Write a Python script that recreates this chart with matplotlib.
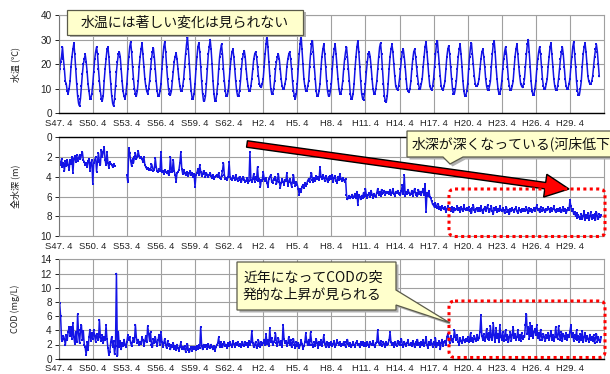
"""Monthly water temperature, total depth and COD since S47 (three stacked panels)."""

import numpy as np
import matplotlib.pyplot as plt
from matplotlib.patches import FancyArrow, FancyBboxPatch, Polygon
from matplotlib.transforms import Affine2D

plt.rcParams['font.family'] = ['Noto Sans CJK JP', 'DejaVu Sans']

# fiscal years (April start); one row of monthly values per year, Apr..Mar
fiscal_years = list(range(1972, 2020))

temp_rows = [
    [12, 18, 21, 23, 27, 22, 18, 13, 12, 9, 8, 10],
    [13, 19, 23, 26, 28.5, 24, 18, 12, 7, 4, 3, 6],
    [11, 16, 20, 22, 24, 21, 17, 12, 9, 6, 6, 8],
    [12, 17, 22, 25, 27, 24, 18, 13, 9, 6, 5, 7],
    [13, 18, 22, 26, 27, 23, 17, 12, 7, 4, 3, 6],
    [11, 17, 21, 24, 25, 23, 18, 13, 9, 7, 6, 8],
    [12, 18, 23, 27, 29, 25, 19, 14, 10, 8, 7, 9],
    [13, 19, 23, 26, 28.5, 24, 19, 14, 11, 9, 8, 10],
    [13, 18, 22, 25, 26.5, 23, 18, 13, 9, 7, 7, 9],
    [12, 18, 23, 27, 29, 25, 19, 14, 10, 8, 7.5, 9],
    [13, 17, 21, 23, 24.5, 22, 18, 14, 11, 9, 9, 11],
    [14, 19, 24, 28, 31, 26, 20, 14, 9, 6, 6, 8],
    [12, 18, 23, 27, 28.5, 25, 19, 13, 8, 5, 5, 7],
    [12, 18, 24, 27, 30, 26, 20, 13, 8, 5, 5, 8],
    [12, 18, 23, 26, 28, 24, 18, 13, 9, 7, 7, 9],
    [13, 18, 22, 25, 26, 23, 18, 13, 9, 7, 7, 9],
    [13, 18, 22, 24, 25.5, 23, 18, 14, 11, 9, 9, 11],
    [14, 18, 22, 24, 25, 23, 19, 15, 12, 11, 10.5, 12],
    [14, 19, 24, 28, 32, 27, 21, 15, 10, 8, 8, 10],
    [13, 18, 21, 23, 24, 22, 18, 14, 11, 10, 10, 12],
    [14, 19, 22, 24, 25, 22, 18, 13, 9, 7, 6, 8],
    [12, 18, 24, 28, 32, 26, 20, 14, 11, 9, 9, 11],
    [13, 19, 24, 28, 29.5, 25, 19, 14, 9, 7, 7, 9],
    [12, 18, 23, 26, 28, 24, 19, 13, 9, 7, 7, 9],
    [12, 18, 23, 26, 28, 24, 19, 14, 10, 8, 8, 10],
    [13, 18, 22, 25, 27, 23, 18, 13, 8, 6, 6, 8],
    [12, 18, 23, 27, 29.5, 25, 19, 13, 8, 6, 5.5, 8],
    [12, 17, 21, 24, 25, 23, 19, 14, 10, 8, 8, 10],
    [13, 18, 23, 27, 28.5, 24, 18, 12, 7, 5, 4.5, 7],
    [12, 18, 23, 26, 28, 25, 20, 15, 11, 10, 9.5, 11],
    [14, 18, 22, 25, 26, 23, 19, 14, 10, 9, 8.5, 10],
    [13, 18, 22, 25, 26, 23, 19, 15, 12, 10, 10, 12],
    [14, 19, 23, 27, 29, 25, 20, 15, 11, 10, 9.5, 11],
    [14, 19, 24, 28, 29.5, 25, 20, 15, 11, 10, 9.5, 11],
    [13, 18, 23, 26, 27.5, 24, 19, 14, 10, 8, 8, 10],
    [13, 18, 23, 26, 28, 24, 19, 13, 9, 7, 7, 9],
    [12, 18, 23, 27, 28.5, 24, 20, 15, 12, 11, 11, 12],
    [14, 18, 22, 25, 26, 23, 19, 14, 11, 9.5, 9.5, 11],
    [13, 19, 24, 28, 29.5, 25, 19, 14, 10, 8, 8, 10],
    [13, 18, 22, 25, 27, 24, 19, 14, 11, 9.5, 9.5, 11],
    [13, 18, 23, 26, 28, 24, 19, 15, 12, 11, 10.5, 12],
    [14, 19, 24, 28, 30, 25, 19, 13, 9, 7.5, 7.5, 10],
    [13, 18, 22, 25, 27, 24, 19, 14, 11, 10, 10, 12],
    [14, 19, 23, 27, 28.5, 24, 19, 14, 11, 9.5, 9.5, 11],
    [14, 18, 22, 25, 27, 24, 19, 14, 11, 10, 10, 12],
    [14, 19, 23, 27, 29, 24, 19, 13, 9, 7.5, 7.5, 10],
    [13, 19, 24, 27, 28.5, 25, 20, 15, 13, 12, 12, 13],
    [15, 19, 23, 26, 28, 25, 20, 15],
]

N = None
depth_rows = [
    [2.0, 2.5, 2.8, 2.2, 3.0, 2.6, 3.4, 2.4, 2.9, 2.3, 2.8, 3.3],
    [2.3, 2.7, 2.0, 3.6, 2.2, 1.9, 2.5, 1.8, 2.4, 2.1, 1.8, 2.2],
    [1.8, 1.5, 2.3, 2.5, 2.8, 2.6, 3.0, 2.4, 2.2, 3.4, 2.6, 2.3],
    [4.7, 2.6, 2.3, 2.0, 3.5, 2.4, 1.6, 2.5, 2.8, 1.3, 2.0, 1.5],
    [1.0, 2.3, 2.8, 1.5, 2.6, 3.1, 2.5, 2.7, 2.8, 3.0, 2.7, 2.9],
    [N, N, N, N, N, N, N, N, N, N, N, N],
    [3.8, 4.5, 1.1, 1.6, 2.4, 2.9, 2.2, 2.6, 2.0, 1.6, 2.2, 2.0],
    [1.4, 1.9, 2.1, 2.0, 2.2, 2.5, 2.0, 2.8, 3.0, 3.2, 3.1, 3.3],
    [3.2, 3.3, 2.7, 3.0, 3.4, 3.3, 2.1, 3.0, 3.4, 3.5, 3.2, 3.4],
    [1.5, 3.5, 3.4, 3.7, 3.3, 3.5, 3.6, 3.4, 3.8, 3.6, 2.0, 3.5],
    [3.5, 2.3, 3.4, 3.8, 4.5, 3.6, 3.5, 3.3, 2.6, 1.5, 3.2, 3.7],
    [3.3, 3.6, 3.8, 3.5, 3.7, 3.9, 3.6, 3.4, 3.8, 3.6, 4.0, 3.7],
    [5.0, 3.8, 3.6, 3.2, 3.8, 2.8, 3.5, 3.9, 3.7, 3.4, 3.6, 4.0],
    [3.6, 3.8, 4.0, 3.8, 3.6, 3.9, 4.1, 3.8, 4.2, 4.0, 3.9, 3.8],
    [4.0, 3.6, 4.1, 4.2, 3.9, 3.4, 2.6, 3.8, 4.2, 4.1, 4.3, 4.0],
    [2.5, 4.0, 4.2, 4.3, 3.9, 4.1, 4.3, 3.8, 4.2, 4.4, 4.1, 4.0],
    [4.3, 4.5, 4.2, 4.0, 4.3, 4.5, 4.4, 4.1, 4.6, 4.4, 1.5, 4.3],
    [4.5, 4.2, 3.7, 4.5, 4.0, 4.3, 3.0, 4.4, 4.2, 5.0, 4.3, 4.4],
    [3.5, 4.2, 4.4, 4.1, 4.6, 5.0, 4.2, 4.0, 3.8, 4.5, 4.6, 4.2],
    [4.3, 4.0, 4.7, 4.4, 3.7, 4.5, 5.1, 4.6, 4.2, 4.5, 4.8, 4.3],
    [4.4, 3.6, 4.9, 4.5, 4.2, 4.6, 5.0, 4.4, 3.8, 4.6, 4.9, 4.5],
    [4.8, 5.2, 5.8, 5.2, 5.5, 5.0, 4.8, 5.1, 4.6, 4.9, 4.7, 4.4],
    [4.2, 4.5, 4.0, 3.6, 4.3, 4.5, 4.1, 4.4, 3.9, 4.2, 4.0, 4.3],
    [3.0, 4.0, 4.2, 3.8, 4.1, 4.4, 3.9, 4.2, 4.5, 4.0, 4.3, 3.9],
    [4.2, 3.8, 4.5, 4.1, 3.9, 4.4, 4.6, 4.0, 4.3, 3.7, 4.2, 4.4],
    [4.1, 4.3, 4.5, 4.2, 5.8, 6.3, 6.1, 5.9, 6.2, 6.0, 5.8, 6.1],
    [6.0, 5.7, 6.2, 5.5, 6.9, 5.8, 6.0, 6.3, 5.9, 6.1, 5.6, 6.0],
    [5.2, 5.9, 6.1, 5.8, 5.6, 6.0, 5.4, 5.8, 6.1, 5.7, 5.9, 6.0],
    [5.6, 5.2, 5.8, 5.5, 5.9, 5.3, 5.7, 5.6, 5.4, 5.8, 5.5, 5.6],
    [5.5, 5.7, 5.3, 5.8, 5.6, 5.2, 5.7, 5.9, 5.5, 5.6, 5.4, 5.7],
    [5.6, 5.8, 5.4, 4.8, 5.7, 3.8, 5.9, 5.5, 5.7, 5.3, 5.6, 5.8],
    [5.7, 5.4, 5.9, 5.5, 5.2, 5.8, 5.6, 5.9, 5.3, 5.7, 5.5, 5.8],
    [5.5, 5.2, 5.8, 4.7, 7.6, 5.6, 5.9, 5.4, 6.0, 6.2, 6.5, 6.8],
    [6.9, 7.1, 6.7, 7.0, 7.2, 6.8, 7.3, 7.1, 7.4, 7.0, 7.2, 7.3],
    [7.1, 7.6, 7.3, 7.0, 7.4, 7.2, 7.5, 7.1, 7.3, 7.6, 7.2, 7.4],
    [7.3, 7.0, 7.4, 7.2, 7.6, 7.1, 7.3, 7.5, 6.9, 7.3, 7.4, 7.2],
    [7.4, 7.1, 7.5, 7.3, 7.7, 7.2, 6.9, 7.4, 7.6, 7.3, 7.2, 7.5],
    [7.2, 7.5, 7.0, 7.4, 7.7, 7.3, 7.1, 7.5, 7.2, 6.9, 7.4, 7.6],
    [7.3, 7.0, 7.5, 7.8, 7.2, 7.4, 7.1, 7.6, 7.3, 7.5, 7.0, 7.4],
    [7.5, 7.2, 7.4, 7.7, 7.3, 7.1, 7.6, 7.4, 7.8, 7.3, 7.5, 7.2],
    [7.4, 7.6, 7.3, 7.1, 7.5, 7.7, 7.2, 7.4, 7.6, 7.3, 7.5, 7.4],
    [7.3, 7.5, 7.1, 7.4, 7.7, 7.2, 7.5, 7.3, 7.6, 7.4, 7.2, 7.5],
    [7.2, 6.9, 7.4, 7.3, 7.6, 7.1, 7.4, 7.5, 7.2, 7.4, 7.6, 7.3],
    [7.4, 7.1, 7.3, 7.6, 7.2, 7.5, 7.3, 7.0, 7.4, 7.6, 7.3, 7.5],
    [7.3, 7.5, 7.2, 7.6, 7.4, 7.1, 7.5, 7.3, 7.7, 7.4, 7.2, 7.4],
    [6.4, 7.0, 7.5, 7.3, 7.8, 7.6, 8.0, 7.7, 8.2, 7.9, 8.1, 8.3],
    [7.8, 8.3, 8.0, 7.5, 8.4, 7.9, 8.2, 7.7, 8.4, 8.0, 7.6, 8.3],
    [7.9, 8.2, 7.8, 8.4, 7.6, 8.0, 8.3, 7.8, 8.1, 7.9],
]

cod_rows = [
    [7.5, 7.8, 6.0, 2.7, 2.5, 3.2, 2.8, 1.9, 3.3, 2.6, 3.8, 4.4],
    [3.2, 4.5, 2.8, 5.0, 3.0, 2.1, 3.8, 2.4, 6.3, 3.5, 2.2, 4.0],
    [4.7, 2.6, 3.9, 2.0, 1.6, 0.5, 2.3, 1.2, 3.0, 4.1, 2.5, 3.6],
    [2.8, 4.0, 3.2, 2.4, 3.5, 2.9, 2.6, 5.5, 3.0, 2.5, 3.3, 2.2],
    [3.0, 2.6, 4.7, 2.8, 1.5, 0.5, 1.0, 2.4, 3.1, 1.7, 2.5, 0.6],
    [1.8, 12.0, 0.4, 3.8, 1.6, 2.5, 1.3, 2.2, 1.8, 2.7, 2.0, 1.6],
    [2.4, 3.3, 2.6, 3.0, 2.2, 1.8, 2.5, 2.9, 2.4, 4.8, 3.0, 2.2],
    [2.7, 1.9, 2.4, 2.1, 3.0, 2.6, 1.8, 2.5, 3.2, 2.3, 4.6, 3.5],
    [2.5, 3.7, 2.0, 1.6, 2.8, 2.2, 3.1, 2.4, 1.8, 2.6, 3.4, 2.0],
    [3.7, 2.4, 1.7, 2.2, 2.8, 1.9, 1.5, 2.5, 1.8, 2.1, 1.3, 1.9],
    [1.6, 2.2, 1.4, 1.8, 1.2, 2.0, 1.5, 1.1, 1.7, 2.3, 1.4, 1.6],
    [1.3, 1.8, 1.0, 1.5, 2.1, 1.2, 0.9, 1.4, 1.7, 1.1, 1.6, 1.4],
    [1.6, 1.2, 1.8, 1.4, 1.9, 1.5, 4.5, 1.8, 1.3, 2.0, 1.6, 1.7],
    [1.9, 1.4, 2.1, 1.7, 1.5, 2.0, 1.6, 1.3, 1.8, 1.1, 1.6, 1.9],
    [2.2, 3.0, 1.7, 2.4, 1.9, 1.6, 2.1, 2.3, 1.8, 2.0, 1.5, 2.2],
    [1.8, 2.3, 2.0, 1.6, 2.5, 2.1, 1.7, 2.2, 1.9, 2.4, 1.8, 2.0],
    [2.1, 1.7, 2.4, 2.0, 1.8, 2.3, 1.9, 2.2, 1.6, 2.5, 2.0, 2.3],
    [3.9, 2.2, 1.6, 2.0, 2.4, 1.5, 1.8, 2.6, 2.1, 1.7, 2.3, 2.0],
    [2.2, 2.7, 1.9, 3.5, 2.1, 2.6, 1.8, 4.3, 2.3, 2.9, 2.0, 2.4],
    [2.6, 3.6, 2.2, 1.8, 2.9, 2.3, 2.0, 2.5, 1.7, 4.8, 2.8, 2.2],
    [2.5, 1.8, 2.2, 3.1, 1.9, 2.7, 1.6, 2.3, 2.8, 2.0, 1.5, 2.4],
    [1.8, 2.2, 1.5, 1.9, 2.6, 2.1, 1.4, 1.8, 2.3, 3.6, 2.4, 1.9],
    [2.7, 1.9, 3.7, 2.5, 2.0, 1.6, 2.3, 1.8, 2.8, 2.2, 1.5, 2.4],
    [2.0, 2.6, 1.8, 2.3, 3.3, 2.1, 1.7, 2.4, 2.0, 1.6, 2.2, 1.9],
    [2.3, 1.8, 2.1, 2.5, 1.7, 2.0, 2.6, 2.2, 1.9, 2.4, 1.8, 2.1],
    [1.9, 2.4, 2.0, 1.7, 2.3, 2.7, 2.1, 1.8, 2.2, 1.6, 2.0, 2.3],
    [2.0, 1.7, 2.2, 2.5, 1.9, 2.1, 1.6, 2.3, 2.0, 2.4, 1.8, 2.1],
    [2.2, 1.8, 2.4, 2.0, 1.7, 2.3, 2.1, 1.9, 2.5, 2.0, 1.6, 2.2],
    [2.4, 4.0, 2.2, 1.9, 2.5, 2.0, 1.8, 2.3, 2.1, 1.7, 2.4, 2.0],
    [2.1, 2.6, 3.7, 2.3, 1.9, 2.2, 1.7, 2.4, 2.0, 1.8, 2.5, 2.1],
    [1.9, 2.3, 2.8, 2.0, 1.7, 2.4, 2.1, 1.8, 2.2, 2.6, 1.9, 2.0],
    [2.2, 1.8, 2.5, 2.1, 1.6, 2.3, 2.0, 2.7, 1.9, 2.2, 1.7, 2.4],
    [2.0, 2.6, 1.8, 2.2, 3.1, 2.0, 1.5, 2.3, 1.9, 2.6, 2.1, 1.7],
    [2.4, 2.0, 2.9, 1.6, 2.2, 1.9, 2.5, 1.3, 2.2, 2.7, 1.8, 2.3],
    [2.5, 2.0, 3.0, 3.5, 2.7, 2.2, 3.2, 2.6, 2.3, 2.8, 4.0, 3.1],
    [2.6, 3.3, 2.4, 2.0, 2.9, 2.5, 2.2, 3.0, 2.6, 2.3, 2.8, 2.5],
    [3.0, 2.4, 2.7, 3.6, 2.5, 2.9, 2.3, 3.2, 2.8, 2.5, 3.4, 2.6],
    [2.9, 3.8, 6.1, 3.2, 2.7, 3.5, 2.5, 3.0, 4.2, 2.8, 3.6, 2.7],
    [4.6, 3.0, 2.6, 5.0, 3.3, 2.4, 4.3, 2.9, 3.5, 2.3, 4.8, 3.1],
    [2.7, 3.8, 2.5, 3.2, 4.0, 2.6, 3.4, 2.3, 3.0, 3.7, 2.5, 3.3],
    [4.5, 2.9, 3.5, 2.6, 3.1, 4.0, 2.7, 3.3, 2.5, 3.6, 2.8, 3.2],
    [3.0, 4.8, 6.3, 3.5, 4.4, 2.8, 5.0, 3.2, 4.6, 2.9, 3.7, 4.2],
    [3.4, 4.7, 2.9, 3.6, 2.6, 4.1, 3.1, 2.7, 3.5, 3.0, 2.5, 3.3],
    [2.9, 3.6, 2.6, 3.2, 3.9, 2.7, 3.4, 2.5, 3.0, 4.5, 3.1, 2.8],
    [4.6, 3.3, 2.7, 3.8, 2.5, 3.5, 3.2, 2.8, 3.6, 2.6, 3.4, 3.0],
    [3.8, 4.7, 3.0, 3.6, 2.5, 3.3, 2.8, 4.0, 2.6, 3.2, 2.4, 3.5],
    [2.7, 3.9, 2.3, 3.0, 3.6, 2.5, 3.2, 2.8, 2.4, 3.4, 2.6, 3.1],
    [2.5, 3.3, 2.2, 2.9, 3.5, 2.4, 3.1, 2.6, 2.3, 3.0],
]

tick_labels = ['S47. 4', 'S50. 4', 'S53. 4', 'S56. 4', 'S59. 4', 'S62. 4',
               'H2. 4', 'H5. 4', 'H8. 4', 'H11. 4', 'H14. 4', 'H17. 4',
               'H20. 4', 'H23. 4', 'H26. 4', 'H29. 4']


def monthly(rows):
    xs, ys = [], []
    for fy, row in zip(fiscal_years, rows):
        for m, v in enumerate(row):
            xs.append(fy + 0.25 + m / 12)
            ys.append(np.nan if v is None else v)
    return np.array(xs), np.array(ys)


W, H = 610, 374
L, R = 58.7, 604
fig = plt.figure(figsize=(W / 100, H / 100), dpi=100)
# pixel coordinates, origin at top-left
pix = Affine2D().scale(1 / W, -1 / H).translate(0, 1) + fig.transFigure


def make_axes(top, bottom):
    return fig.add_axes([L / W, 1 - bottom / H, (R - L) / W, (bottom - top) / H])


blue = '#1414e6'
grid_c = '#a0a0a0'
panels = [
    (15, 113.3, temp_rows, (0, 40), 10, '水温 (℃)', False),
    (137.3, 236, depth_rows, (10, 0), 2, '全水深 (m)', True),
    (259.3, 358.7, cod_rows, (0, 14), 2, 'COD (mg/L)', False),
]

axes = []
for top, bottom, rows, ylim, ystep, ylabel, inverted in panels:
    ax = make_axes(top, bottom)
    x, y = monthly(rows)
    ax.plot(x, y, '-', color=blue, lw=1.1, marker='s', ms=1.8, mew=0)
    ax.set_xlim(1972.25, 2020.25)
    ax.set_ylim(*ylim)
    lo, hi = min(ylim), max(ylim)
    ax.set_yticks(np.arange(lo, hi + 0.1, ystep))
    ax.set_xticks([1972.25 + 3 * k for k in range(16)])
    ax.set_xticklabels(tick_labels)
    ax.grid(True, color=grid_c, lw=0.8)
    ax.set_axisbelow(True)
    ax.tick_params(axis='x', length=0, pad=4, labelsize=6.8, colors='#222222')
    ax.tick_params(axis='y', length=3, width=0.7, pad=2, labelsize=7.2,
                   colors='#222222')
    for lab in ax.get_xticklabels() + ax.get_yticklabels():
        lab.set_family('Liberation Sans')
    for s in ax.spines.values():
        s.set_color(grid_c)
        s.set_linewidth(0.8)
    ax.spines['left'].set_color('#777777')
    zero = 'top' if inverted else 'bottom'
    ax.spines[zero].set_color('black')
    ax.spines[zero].set_linewidth(1.0)
    fig.text(15 / W, 1 - (top + bottom) / 2 / H, ylabel, rotation=90,
             ha='center', va='center', fontsize=6.5, color='#222222')
    axes.append(ax)


def callout(points, shadow=True):
    if shadow:
        sh = Polygon([(px + 2.5, py + 2.5) for px, py in points], closed=True,
                     transform=pix, fc='#b0b0b0', ec='none')
        fig.add_artist(sh)
    fig.add_artist(Polygon(points, closed=True, transform=pix,
                           fc='#ffffcc', ec='#5a5a4a', lw=0.9))


# red arrow: depth getting deeper
fig.add_artist(FancyArrow(247, 144, 322, 45, width=6.5, head_width=23,
                          head_length=24, length_includes_head=True,
                          transform=pix, fc='#ff0000', ec='black', lw=1.0))

# dotted frames around recent years
for top, bottom in [(189, 236.5), (301, 357.5)]:
    fig.add_artist(FancyBboxPatch((449, top), 156, bottom - top,
                                  boxstyle='round,pad=0,rounding_size=6',
                                  transform=pix, fill=False, ec='#ff0000',
                                  lw=2.2, ls=(0, (1, 1.1))))

callout([(67, 10), (303, 10), (303, 35), (67, 35)])
fig.text(185 / W, 1 - 22.5 / H, '水温には著しい変化は見られない', ha='center',
         va='center', fontsize=10, color='#111111')

callout([(407, 131), (620, 131), (620, 157), (463, 157), (450, 164),
         (443, 157), (407, 157)])
fig.text(412 / W, 1 - 144 / H, '水深が深くなっている(河床低下', ha='left',
         va='center', fontsize=10, color='#111111')

callout([(237, 262), (396, 262), (396, 290), (450, 323), (396, 305),
         (396, 310), (237, 310)])
fig.text(243 / W, 1 - 286 / H, '近年になってCODの突\n発的な上昇が見られる',
         ha='left', va='center', fontsize=10, color='#111111', linespacing=1.25)

fig.savefig('out.png', dpi=100)
